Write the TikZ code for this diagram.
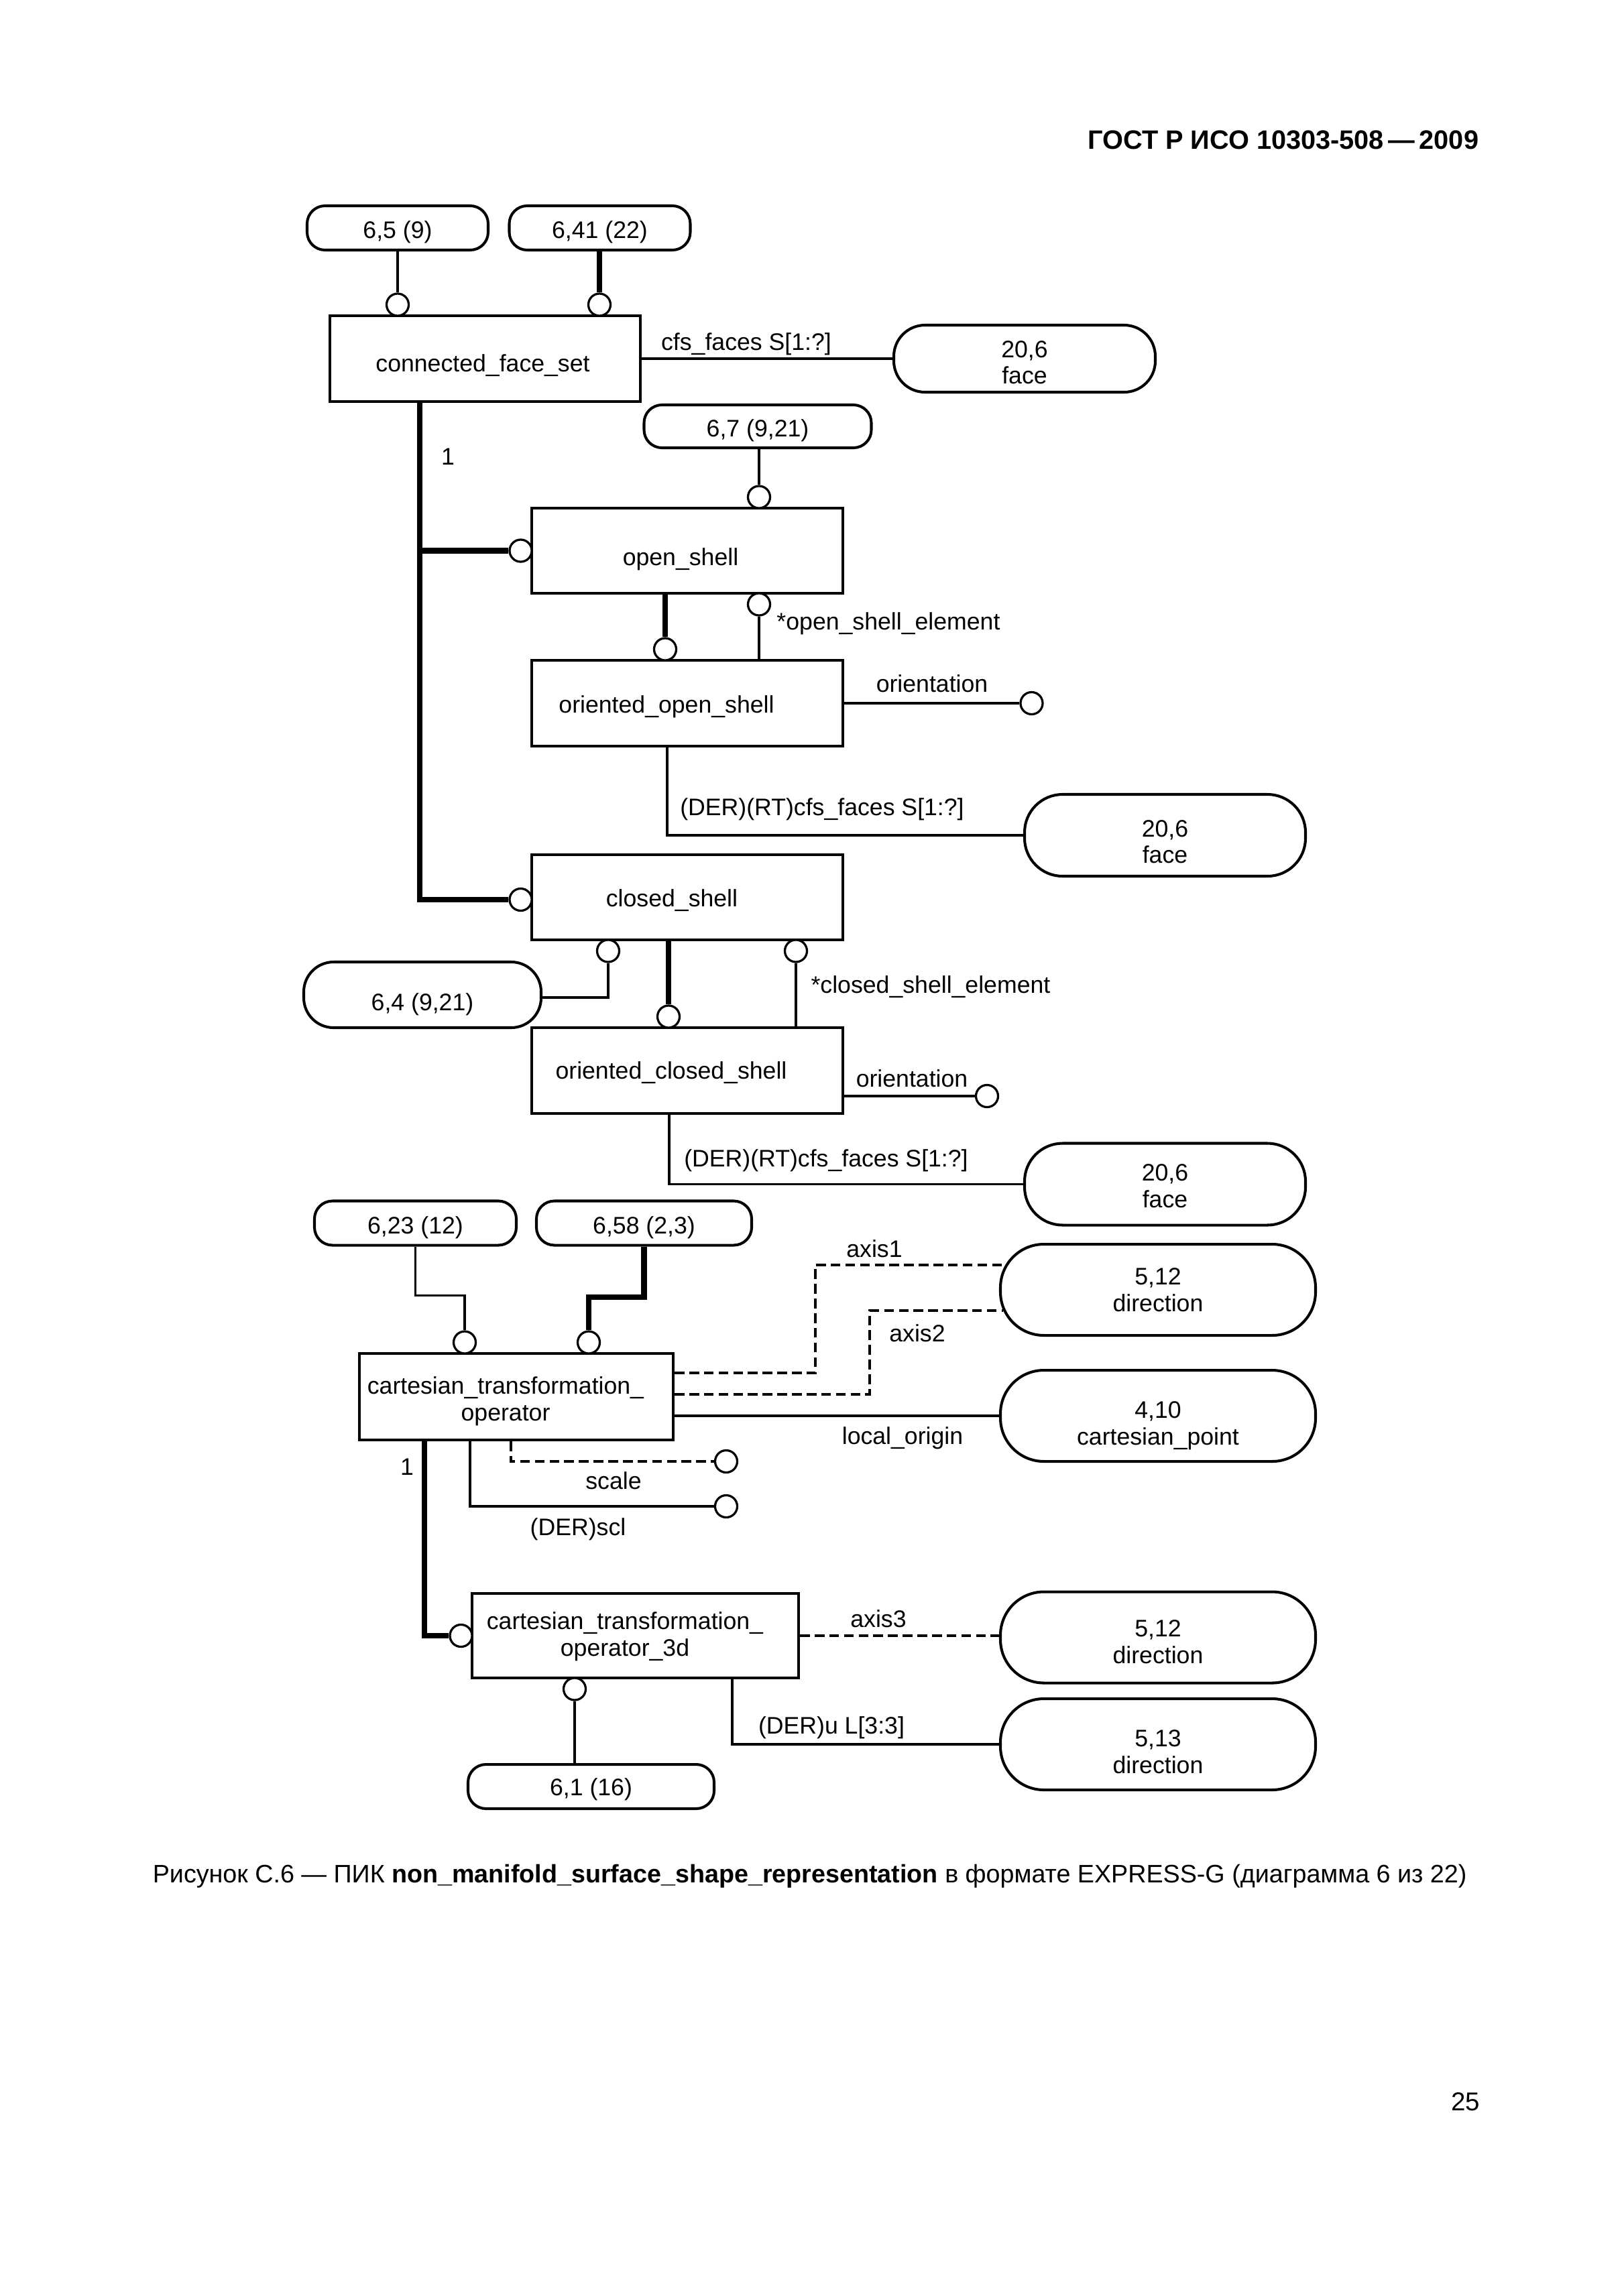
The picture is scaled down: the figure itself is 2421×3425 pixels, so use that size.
\documentclass[tikz,border=0pt]{standalone}
\usepackage{fontspec}
\setmainfont{Liberation Sans}
\usetikzlibrary{calc}
\newlength\pxu
\setlength\pxu{0.086741mm}
\newcommand\diafont{\fontsize{8.8pt}{9.8pt}\selectfont}
\newcommand\lowr[1]{\rule{0pt}{#1}}
\begin{document}
\begin{tikzpicture}[x=0.086741mm, y=-0.086741mm,
  ent/.style={draw, line width=1pt, rectangle, inner sep=0pt},
  pill/.style={draw, line width=1pt, inner sep=0pt, align=center, font=\diafont},
  spill/.style={pill, rounded corners=6.6pt, minimum height=66\pxu},
  txt/.style={inner sep=0pt, align=center, font=\diafont},
  lbl/.style={inner sep=0pt, anchor=base, font=\diafont},
  rel/.style={line width=0.8pt},
  sub/.style={line width=2pt},
  opt/.style={line width=0.8pt, dash pattern=on 3.6pt off 1.8pt},
  ring/.style={circle, draw, line width=0.8pt, fill=white, minimum size=33\pxu, inner sep=0pt}]
\path[use as bounding box, fill=white] (0,0) rectangle (2421,3425);

% header, page number, caption
\node[anchor=base east, inner sep=0pt, font=\fontsize{9.8pt}{12pt}\selectfont\bfseries] (hdr) at (2206,222) {ГОСТ Р ИСО 10303-508\,—\,2009};
\node[anchor=base east, inner sep=0pt, font=\fontsize{9.5pt}{12pt}\selectfont] (pg) at (2208,3148) {25};
\node[anchor=base west, inner sep=0pt, font=\fontsize{9.3pt}{12pt}\selectfont] (cap) at (227,2808) {Рисунок С.6 — ПИК \textbf{non\_manifold\_surface\_shape\_representation} в формате EXPRESS-G (диаграмма 6 из 22)};

% page references / external entities
\node[spill, minimum width=270\pxu] (p65) at (593,340) {\lowr{9.6pt}6,5 (9)};
\node[spill, minimum width=270\pxu] (p641) at (894.5,340) {\lowr{9.6pt}6,41 (22)};
\node[pill, rounded corners=11.5pt, minimum width=390\pxu, minimum height=100\pxu] (f1) at (1528,535) {\lowr{9pt}20,6\\face};
\node[spill, minimum width=339\pxu, minimum height=64\pxu] (p67) at (1130,636) {\lowr{9.6pt}6,7 (9,21)};
\node[pill, rounded corners=14pt, minimum width=419\pxu, minimum height=122\pxu] (f2) at (1737.5,1246) {\lowr{10.9pt}20,6\\face};
\node[pill, rounded corners=11pt, minimum width=354\pxu, minimum height=98\pxu] (p64) at (630,1484) {\lowr{13.6pt}6,4 (9,21)};
\node[pill, rounded corners=14pt, minimum width=419\pxu, minimum height=122\pxu] (f3) at (1737.5,1766.5) {\lowr{7.4pt}20,6\\face};
\node[spill, minimum width=301\pxu] (p623) at (619.5,1824.5) {\lowr{9.6pt}6,23 (12)};
\node[spill, minimum width=321\pxu] (p658) at (960.5,1824.5) {\lowr{9.6pt}6,58 (2,3)};
\node[pill, rounded corners=16pt, minimum width=470\pxu, minimum height=136\pxu] (d1) at (1727,1924) {5,12\\direction};
\node[pill, rounded corners=16pt, minimum width=470\pxu, minimum height=136\pxu] (cp) at (1727,2112) {\lowr{13.3pt}4,10\\cartesian\_point};
\node[pill, rounded corners=16pt, minimum width=470\pxu, minimum height=136\pxu] (d2) at (1727,2442.5) {\lowr{9.5pt}5,12\\direction};
\node[pill, rounded corners=16pt, minimum width=470\pxu, minimum height=136\pxu] (d3) at (1727,2602) {\lowr{11.7pt}5,13\\direction};
\node[spill, minimum width=367\pxu] (p61) at (881.5,2665) {\lowr{8.6pt}6,1 (16)};

% entities
\node[ent, minimum width=463\pxu, minimum height=128\pxu] (cfs) at (723.5,535) {};
\node[txt] (cfst) at (720,545) {connected\_face\_set};
\node[ent, minimum width=464\pxu, minimum height=127\pxu] (os) at (1025,821.5) {};
\node[txt] (ost) at (1015,834) {open\_shell};
\node[ent, minimum width=464\pxu, minimum height=128\pxu] (oos) at (1025,1049) {};
\node[txt] (oost) at (994,1054) {oriented\_open\_shell};
\node[ent, minimum width=464\pxu, minimum height=127\pxu] (cs) at (1025,1338.5) {};
\node[txt] (cst) at (1002,1343) {closed\_shell};
\node[ent, minimum width=464\pxu, minimum height=128\pxu] (ocs) at (1025,1597) {};
\node[txt] (ocst) at (1001,1600) {oriented\_closed\_shell};
\node[ent, minimum width=468\pxu, minimum height=129\pxu] (cto) at (770,2083.5) {};
\node[txt] (ctot) at (754,2090) {cartesian\_transformation\_\\operator};
\node[ent, minimum width=487\pxu, minimum height=126\pxu] (cto3) at (947.5,2440) {};
\node[txt] (cto3t) at (932,2441) {cartesian\_transformation\_\\operator\_3d};

% rings
\node[ring] (r1) at (593,454.5) {};
\node[ring] (r2) at (894,454.5) {};
\node[ring] (r3) at (1132,741.5) {};
\node[ring] (r4) at (776.5,821.5) {};
\node[ring] (r5) at (1132,901.5) {};
\node[ring] (r6) at (992,968.5) {};
\node[ring] (r7) at (1538.5,1049) {};
\node[ring] (r8) at (776.5,1342) {};
\node[ring] (r9) at (907,1418.5) {};
\node[ring] (r10) at (1187,1418.5) {};
\node[ring] (r11) at (997,1516.5) {};
\node[ring] (r12) at (1472,1635) {};
\node[ring] (r13) at (693,2002.5) {};
\node[ring] (r14) at (878,2002.5) {};
\node[ring] (r15) at (1083,2180) {};
\node[ring] (r16) at (1083,2247) {};
\node[ring] (r17) at (687.5,2440) {};
\node[ring] (r18) at (857,2519.5) {};

% connectors
\draw[rel] (p65.south) -- (r1.north);
\draw[sub] (r2 |- p641.south) -- (r2.north);
\draw[rel] (cfs.east) -- (f1.west);
\node[lbl] (l1) at (1113,522) {cfs\_faces S[1:?]};
\draw[sub] ($(cfs.south west)+(136,0)$) |- (r8.west);
\draw[sub] ($(cfs.south west)+(136,0)$) |- (r4.west);
\node[lbl] (l0) at (668,693) {1};
\draw[rel] (r3 |- p67.south) -- (r3.north);
\draw[sub] (r6 |- os.south) -- (r6.north);
\draw[rel] (r5.south) -- (r5 |- oos.north);
\node[lbl] (l2) at (1325,939) {*open\_shell\_element};
\draw[rel] (oos.east) -- (r7.west);
\node[lbl] (l3) at (1390,1032) {orientation};
\draw[rel] ($(oos.south west)+(204,0)$) |- (f2.west);
\node[lbl] (l4) at (1226,1216) {(DER)(RT)cfs\_faces S[1:?]};
\draw[rel] (r9.south) |- ($(p64.east)+(0,4)$);
\draw[sub] (r11 |- cs.south) -- (r11.north);
\draw[rel] (r10.south) -- (r10 |- ocs.north);
\node[lbl] (l5) at (1388,1481) {*closed\_shell\_element};
\draw[rel] (ocs.east |- r12) -- (r12.west);
\node[lbl] (l6) at (1360,1621) {orientation};
\draw[rel] ($(ocs.south west)+(207,0)$) |- (f3.west);
\node[lbl] (l7) at (1232,1740) {(DER)(RT)cfs\_faces S[1:?]};
\draw[rel] (p623.south) -- ++(0,73) -| (r13.north);
\draw[sub] (p658.south) -- ++(0,75) -| (r14.north);
\draw[opt] (cto.east |- 0,2048) -| ++(210,-161) -- ($(d1.west)+(9.6,-37)$);
\draw[opt] (cto.east |- 0,2080) -| ++(291,-125) -- ($(d1.west)+(6.3,31)$);
\node[lbl] (l8) at (1304,1875) {axis1};
\node[lbl] (l9) at (1368,2001) {axis2};
\draw[rel] (cto.east |- cp.west) -- (cp.west);
\node[lbl] (l10) at (1346,2154) {local\_origin};
\draw[opt] ($(cto.south west)+(228,0)$) |- (r15.west);
\node[lbl] (l11) at (915,2221) {scale};
\draw[rel] ($(cto.south west)+(167,0)$) |- (r16.west);
\node[lbl] (l12) at (862,2290) {(DER)scl};
\draw[sub] ($(cto.south west)+(99,0)$) |- (r17.west);
\node[lbl] (l13) at (607,2200) {1};
\draw[opt] (cto3.east) -- (cto3.east -| d2.west);
\node[lbl] (l14) at (1310,2427) {axis3};
\draw[rel] (r18.south) -- (r18 |- p61.north);
\draw[rel] ($(cto3.south west)+(390,0)$) |- (d3.west);
\node[lbl] (l15) at (1240,2586) {(DER)u L[3:3]};
\end{tikzpicture}
\end{document}
